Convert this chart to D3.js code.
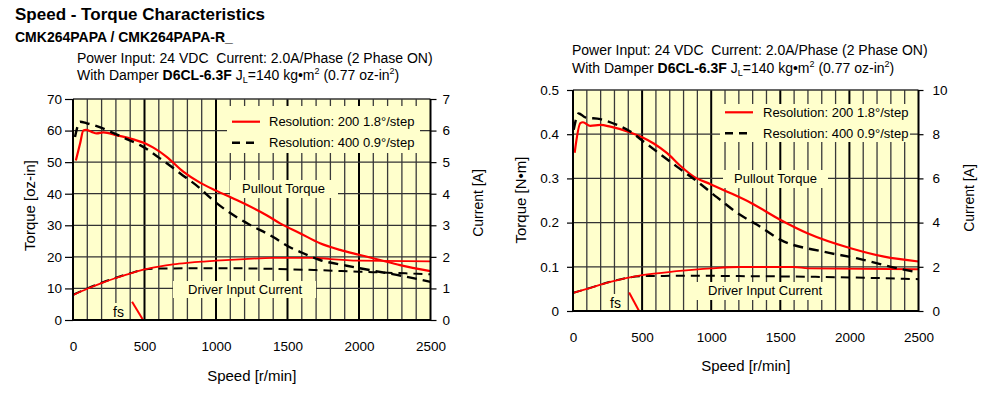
<!DOCTYPE html>
<html><head><meta charset="utf-8">
<script src="https://cdn.jsdelivr.net/npm/d3@7"></script>
<style>
body{margin:0;background:#fff;}
svg{display:block;font-family:"Liberation Sans",Arial,Helvetica,sans-serif;}
</style></head><body>
<svg id="c" width="1000" height="393"></svg>
<script>
// ---------- tick labels ----------
const speedTicks = [0, 500, 1000, 1500, 2000, 2500];
const leftTorqueTicks = [0, 10, 20, 30, 40, 50, 60, 70];
const leftCurrentTicks = [0, 1, 2, 3, 4, 5, 6, 7];
const rightTorqueTicks = [0, 0.1, 0.2, 0.3, 0.4, 0.5];
const rightTorqueTickLabels = ["0", "0.1", "0.2", "0.3", "0.4", "0.5"];
const rightCurrentTicks = [0, 2, 4, 6, 8, 10];
const legendLabels = ["Resolution: 200 1.8°/step", "Resolution: 400 0.9°/step"];

// ---------- left chart (oz-in, A) ----------
const L_red_speed  = [20, 50, 72, 91, 130, 166, 212, 306, 422, 503, 562, 655, 771, 888, 1005, 1121, 1354, 1448, 1587, 1727, 1867, 2007, 2147, 2287, 2500];
const L_red_torque = [50.5, 56, 60, 60.2, 59.6, 59.1, 59.4, 58.5, 57.2, 56, 54.6, 51.7, 47, 43.5, 40.9, 38.5, 33.2, 30.6, 27.5, 24.3, 22.2, 20.6, 19, 17.4, 15.5];
const L_blk_speed  = [14, 49, 96, 166, 259, 375, 469, 608, 748, 888, 965, 1070, 1215, 1400, 1510, 1587, 1727, 1914, 2077, 2263, 2500];
const L_blk_torque = [58, 62.8, 62.3, 61.4, 59.7, 57.3, 55.4, 51.2, 46.5, 41.7, 38.5, 34.8, 30.7, 26.3, 23.2, 21.6, 19, 17.2, 15.8, 14.3, 12.1];
const L_redCur_speed = [0, 100, 200, 300, 400, 500, 600, 700, 800, 900, 1000, 1200, 1400, 1700, 1800, 2000, 2500];
const L_redCur_amp   = [0.79, 0.99, 1.17, 1.33, 1.47, 1.6, 1.69, 1.76, 1.81, 1.85, 1.88, 1.93, 1.97, 1.97, 1.93, 1.88, 1.86];
const L_blkCur_speed = [0, 100, 200, 300, 400, 500, 600, 1000, 1400, 1700, 2000, 2500];
const L_blkCur_amp   = [0.8, 1.0, 1.18, 1.34, 1.48, 1.6, 1.63, 1.64, 1.62, 1.58, 1.53, 1.45];
const L_fs_speed = [413, 490];
const L_fs_torque = [5.8, 0];

// ---------- right chart (N·m, A) ----------
const R_red_speed  = [12, 53, 72, 125, 198, 270, 415, 500, 584, 681, 778, 874, 995, 1116, 1285, 1502, 1696, 2009, 2251, 2500];
const R_red_torque = [0.358, 0.425, 0.427, 0.419, 0.421, 0.417, 0.404, 0.393, 0.379, 0.357, 0.328, 0.304, 0.287, 0.270, 0.245, 0.206, 0.176, 0.142, 0.123, 0.112];
const R_blk_speed  = [5, 41, 89, 198, 319, 415, 512, 609, 754, 899, 1043, 1212, 1333, 1502, 1816, 2058, 2300, 2500];
const R_blk_torque = [0.41, 0.447, 0.438, 0.434, 0.421, 0.406, 0.383, 0.360, 0.326, 0.293, 0.257, 0.217, 0.195, 0.161, 0.134, 0.119, 0.100, 0.087];
const R_redCur_speed = [0, 100, 270, 500, 750, 1000, 1200, 1600, 1700, 2500];
const R_redCur_amp   = [0.82, 1.0, 1.32, 1.62, 1.8, 1.93, 1.99, 1.99, 1.93, 1.89];
const R_blkCur_speed = [0, 100, 270, 500, 750, 1000, 1200, 1600, 2000, 2500];
const R_blkCur_amp   = [0.82, 1.0, 1.32, 1.58, 1.59, 1.59, 1.58, 1.56, 1.52, 1.44];
const R_fs_speed = [406, 478];
const R_fs_torque = [0.042, 0];

const FONT = '"Liberation Sans",Arial,Helvetica,sans-serif';
const YELLOW = '#ffffcc';
const svg = d3.select('#c');
svg.append('rect').attr('width', 1000).attr('height', 393).attr('fill', '#fff');

// titles
svg.append('text').attr('x', 15).attr('y', 20).attr('font-size', 17).attr('font-weight', 'bold').text('Speed - Torque Characteristics');
svg.append('text').attr('x', 15).attr('y', 41.5).attr('font-size', 14).attr('font-weight', 'bold').text('CMK264PAPA / CMK264PAPA-R_');

function header(x, y1, y2) {
  svg.append('text').attr('x', x).attr('y', y1).attr('font-size', 14).text('Power Input: 24 VDC  Current: 2.0A/Phase (2 Phase ON)').attr('xml:space', 'preserve').style('white-space', 'pre');
  const t = svg.append('text').attr('x', x).attr('y', y2).attr('font-size', 14);
  t.append('tspan').text('With Damper ');
  t.append('tspan').attr('font-weight', 'bold').text('D6CL-6.3F');
  t.append('tspan').text(' J');
  t.append('tspan').attr('font-size', 9).attr('dy', 3).text('L');
  t.append('tspan').attr('dy', -3).text('=140 kg•m');
  t.append('tspan').attr('font-size', 9).attr('dy', -6).text('2');
  t.append('tspan').attr('dy', 6).text(' (0.77 oz-in');
  t.append('tspan').attr('font-size', 9).attr('dy', -6).text('2');
  t.append('tspan').attr('dy', 6).text(')');
}

function drawChart(c) {
  const x = d3.scaleLinear().domain([0, 2500]).range([c.x0, c.x1]);
  const y = d3.scaleLinear().domain([0, c.tMax]).range([c.y0, c.y1]);
  const yR = d3.scaleLinear().domain([0, c.cMax]).range([c.y0, c.y1]);
  const g = svg.append('g');
  const gBg = g.append('g'), gGrid = g.append('g'), gBox = g.append('g'), gCurve = g.append('g'), gText = g.append('g'), gAxis = g.append('g');

  gBg.append('rect').attr('x', c.x0).attr('y', c.y1).attr('width', c.x1 - c.x0).attr('height', c.y0 - c.y1).attr('fill', YELLOW);

  // vertical grid
  const vlines = d3.range(100, 2500, 100);
  gGrid.selectAll('line.v').data(vlines).enter().append('line')
    .attr('x1', d => x(d)).attr('x2', d => x(d)).attr('y1', c.y0).attr('y2', c.y1)
    .attr('stroke', d => d % 500 === 0 ? '#000' : '#3a3a3a')
    .attr('stroke-width', d => d % 500 === 0 ? 2 : 1.3);
  // horizontal grid
  gGrid.selectAll('line.h').data(c.tTicks.slice(1)).enter().append('line')
    .attr('x1', c.x0).attr('x2', c.x1).attr('y1', d => y(d)).attr('y2', d => y(d))
    .attr('stroke', '#333').attr('stroke-width', 1.3);

  // curves
  const line = d3.line().x(d => x(d[0])).y(d => d[1]).curve(d3.curveMonotoneX);
  const zipT = (s, v) => s.map((sp, i) => [sp, y(v[i])]);
  const zipC = (s, v) => s.map((sp, i) => [sp, yR(v[i])]);
  gCurve.append('path').attr('d', line(zipC(c.blkCurS, c.blkCurA))).attr('fill', 'none').attr('stroke', '#000').attr('stroke-width', 2).attr('stroke-dasharray', '9,6');
  gCurve.append('path').attr('d', line(zipC(c.redCurS, c.redCurA))).attr('fill', 'none').attr('stroke', '#ff0000').attr('stroke-width', 1.8);
  gCurve.append('path').attr('d', line(zipT(c.redS, c.redT))).attr('fill', 'none').attr('stroke', '#ff0000').attr('stroke-width', 2.2);
  gCurve.append('path').attr('d', line(zipT(c.blkS, c.blkT))).attr('fill', 'none').attr('stroke', '#000').attr('stroke-width', 2.4).attr('stroke-dasharray', '10,6');
  gCurve.append('path').attr('d', d3.line().x(d => x(d[0])).y(d => d[1])(zipT(c.fsS, c.fsT))).attr('fill', 'none').attr('stroke', '#ff0000').attr('stroke-width', 2);

  // label boxes + text
  c.labels.forEach(l => {
    gBox.append('rect').attr('x', l.bx0).attr('y', l.by0).attr('width', l.bx1 - l.bx0).attr('height', l.by1 - l.by0).attr('fill', YELLOW);
    gText.append('text').attr('x', l.x).attr('y', l.y).attr('font-size', l.fs).text(l.text);
  });
  // legend
  const L = c.legend;
  gBox.append('rect').attr('x', L.bx0).attr('y', L.by0).attr('width', L.bx1 - L.bx0).attr('height', L.by1 - L.by0).attr('fill', YELLOW);
  gText.append('line').attr('x1', L.lx0).attr('x2', L.lx1).attr('y1', L.y[0]).attr('y2', L.y[0]).attr('stroke', '#ff0000').attr('stroke-width', 2.2);
  gText.append('line').attr('x1', L.lx0).attr('x2', L.lx1).attr('y1', L.y[1]).attr('y2', L.y[1]).attr('stroke', '#000').attr('stroke-width', 2.4).attr('stroke-dasharray', '8,6');
  legendLabels.forEach((t, i) => gText.append('text').attr('x', L.tx).attr('y', L.y[i] + 4.7).attr('font-size', 13).text(t));

  // axes
  const ax = gAxis.append('g').attr('transform', `translate(${c.x0},0)`)
    .call(d3.axisLeft(y).tickValues(c.tTicks).tickFormat((d, i) => c.tLabels[i]).tickSize(c.ltick).tickPadding(c.lpad));
  const axR = gAxis.append('g').attr('transform', `translate(${c.x1},0)`)
    .call(d3.axisRight(yR).tickValues(c.cTicks).tickFormat(d3.format('d')).tickSize(c.rtick).tickPadding(c.rpad));
  const axB = gAxis.append('g').attr('transform', `translate(0,${c.y0})`)
    .call(d3.axisBottom(x).tickValues(speedTicks).tickFormat(d3.format('d')).tickSize(0).tickPadding(c.bpad));
  [ax, axR, axB].forEach(a => {
    a.selectAll('text').attr('font-size', 13.5).attr('font-family', FONT).attr('fill', '#000');
    a.selectAll('.tick line').attr('stroke', '#000').attr('stroke-width', 1.2);
    a.select('.domain').remove();
  });
  // borders
  gAxis.append('line').attr('x1', c.x0).attr('x2', c.x0).attr('y1', c.y1).attr('y2', c.y0 + 1).attr('stroke', '#000').attr('stroke-width', 2);
  gAxis.append('line').attr('x1', c.x1).attr('x2', c.x1).attr('y1', c.y1).attr('y2', c.y0 + 1).attr('stroke', '#000').attr('stroke-width', 2);
  gAxis.append('line').attr('x1', c.x0).attr('x2', c.x1).attr('y1', c.y0).attr('y2', c.y0).attr('stroke', '#000').attr('stroke-width', 2);

  // axis titles
  gText.append('text').attr('transform', `translate(${c.ltx},${c.lty}) rotate(-90)`).attr('text-anchor', 'middle').attr('font-size', 15).text(c.lTitle);
  gText.append('text').attr('transform', `translate(${c.rtx},${c.rty}) rotate(-90)`).attr('text-anchor', 'middle').attr('font-size', 14).text('Current [A]');
  gText.append('text').attr('x', (c.x0 + c.x1) / 2).attr('y', c.bty).attr('text-anchor', 'middle').attr('font-size', 15).text('Speed [r/min]');
}

header(77, 62.5, 80);
header(572, 55, 73);

drawChart({
  x0: 73, x1: 430.5, y0: 320, y1: 99, tMax: 70, cMax: 7,
  tTicks: leftTorqueTicks, tLabels: leftTorqueTicks.map(String), cTicks: leftCurrentTicks,
  ltick: 8, lpad: 3, rtick: 6, rpad: 6, bpad: 21,
  redS: L_red_speed, redT: L_red_torque, blkS: L_blk_speed, blkT: L_blk_torque,
  redCurS: L_redCur_speed, redCurA: L_redCur_amp, blkCurS: L_blkCur_speed, blkCurA: L_blkCur_amp,
  fsS: L_fs_speed, fsT: L_fs_torque,
  labels: [
    {text: 'Pullout Torque', x: 242, y: 192.5, fs: 13, bx0: 230, bx1: 338, by0: 180, by1: 198},
    {text: 'Driver Input Current', x: 188, y: 293.7, fs: 13, bx0: 173, bx1: 316, by0: 281, by1: 298},
    {text: 'fs', x: 113, y: 317, fs: 14, bx0: 110, bx1: 128, by0: 303, by1: 319}
  ],
  legend: {bx0: 227, bx1: 420, by0: 106, by1: 153, lx0: 232, lx1: 260, tx: 269, y: [121.7, 142.7]},
  lTitle: 'Torque [oz-in]', ltx: 35, lty: 205.5, rtx: 483, rty: 203, bty: 381
});

drawChart({
  x0: 573, x1: 918.5, y0: 311, y1: 90, tMax: 0.5, cMax: 10,
  tTicks: rightTorqueTicks, tLabels: rightTorqueTickLabels, cTicks: rightCurrentTicks,
  ltick: 6, lpad: 8, rtick: 5, rpad: 9, bpad: 21,
  redS: R_red_speed, redT: R_red_torque, blkS: R_blk_speed, blkT: R_blk_torque,
  redCurS: R_redCur_speed, redCurA: R_redCur_amp, blkCurS: R_blkCur_speed, blkCurA: R_blkCur_amp,
  fsS: R_fs_speed, fsT: R_fs_torque,
  labels: [
    {text: 'Pullout Torque', x: 734, y: 183, fs: 13, bx0: 723, bx1: 828, by0: 170, by1: 188},
    {text: 'Driver Input Current', x: 708, y: 295.4, fs: 13, bx0: 695, bx1: 832, by0: 282, by1: 300},
    {text: 'fs', x: 610, y: 307.5, fs: 14, bx0: 606, bx1: 624, by0: 294, by1: 310}
  ],
  legend: {bx0: 720, bx1: 910, by0: 104, by1: 142, lx0: 725, lx1: 753, tx: 763, y: [112.3, 133.3]},
  lTitle: 'Torque [N•m]', ltx: 526, lty: 200, rtx: 974, rty: 198, bty: 371
});
</script>
</body></html>
